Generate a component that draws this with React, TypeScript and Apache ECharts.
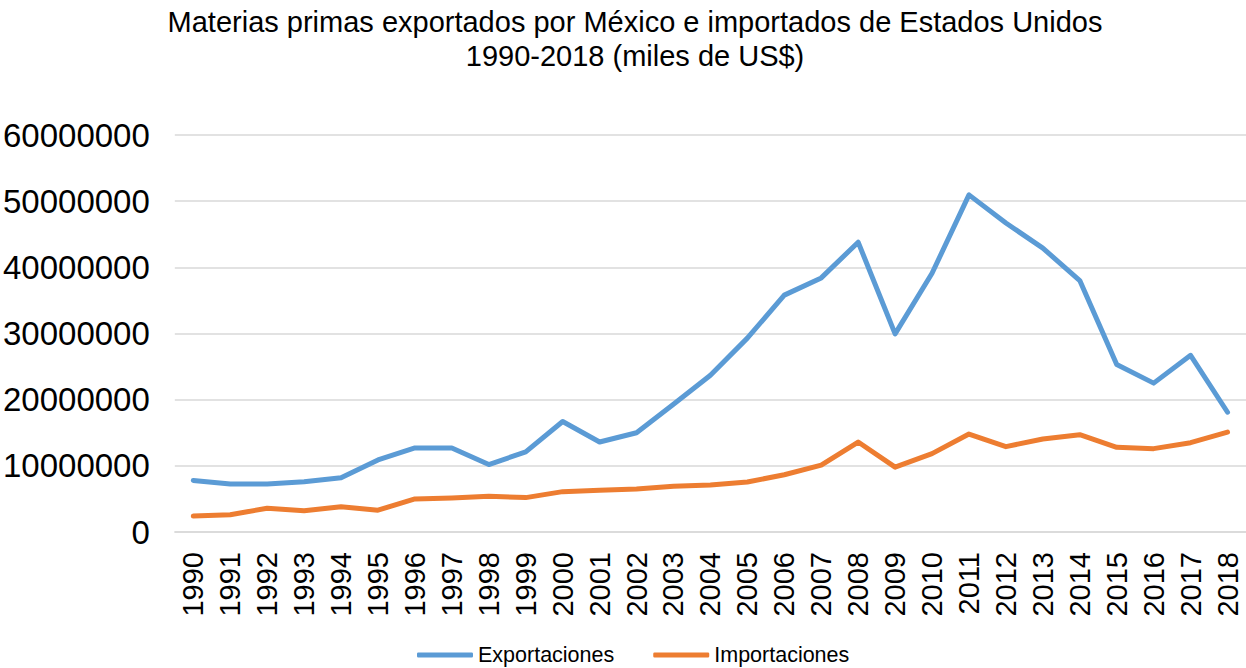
import React, { useEffect, useRef } from "react";
import * as echarts from "echarts";

const years = [
  "1990", "1991", "1992", "1993", "1994", "1995", "1996", "1997", "1998", "1999",
  "2000", "2001", "2002", "2003", "2004", "2005", "2006", "2007", "2008", "2009",
  "2010", "2011", "2012", "2013", "2014", "2015", "2016", "2017", "2018",
];

const exportaciones = [
  7800000, 7250000, 7250000, 7600000, 8200000, 10900000, 12700000, 12700000, 10200000, 12100000,
  16700000, 13600000, 15000000, 19300000, 23700000, 29300000, 35800000, 38400000, 43800000, 29950000,
  39100000, 50950000, 46700000, 42900000, 38000000, 25300000, 22500000, 26700000, 18100000,
];

const importaciones = [
  2400000, 2600000, 3600000, 3200000, 3800000, 3300000, 5000000, 5150000, 5400000, 5200000,
  6100000, 6300000, 6500000, 6900000, 7100000, 7550000, 8650000, 10100000, 13600000, 9800000,
  11850000, 14800000, 12900000, 14050000, 14700000, 12800000, 12600000, 13500000, 15100000,
];

const yTicks = { min: 0, max: 60000000, interval: 10000000 };

const titleText =
  "Materias primas exportados por México e importados de Estados Unidos\n1990-2018 (miles de US$)";

const FONT = "'Liberation Sans', Arial, sans-serif";

export default function App() {
  const ref = useRef<HTMLDivElement>(null);

  useEffect(() => {
    if (!ref.current) return;
    const chart = echarts.init(ref.current, undefined, { renderer: "svg" });
    chart.setOption({
      animation: false,
      backgroundColor: "#ffffff",
      title: {
        text: titleText,
        left: 630,
        top: 0,
        textAlign: "center",
        textStyle: {
          fontFamily: FONT,
          fontSize: 29,
          fontWeight: "normal",
          color: "#000000",
          lineHeight: 34,
          align: "center",
        },
      },
      legend: {
        top: 639,
        left: 412,
        itemWidth: 56,
        itemHeight: 5,
        itemGap: 39,
        icon: "roundRect",
        textStyle: { fontFamily: FONT, fontSize: 21.5, color: "#000000" },
        data: ["Exportaciones", "Importaciones"],
      },
      grid: { left: 172, right: 0, top: 135, bottom: 136, containLabel: false },
      xAxis: {
        type: "category",
        data: years,
        boundaryGap: true,
        axisLine: { show: true, lineStyle: { color: "#d9d9d9", width: 1.5 } },
        axisTick: { show: false },
        axisLabel: {
          rotate: 90,
          interval: 0,
          margin: 20,
          fontFamily: FONT,
          fontSize: 29,
          color: "#000000",
        },
      },
      yAxis: {
        type: "value",
        min: yTicks.min,
        max: yTicks.max,
        interval: yTicks.interval,
        axisLine: { show: false },
        axisTick: { show: false },
        splitLine: { lineStyle: { color: "#d9d9d9", width: 1.5 } },
        axisLabel: {
          margin: 25,
          fontFamily: FONT,
          fontSize: 33,
          color: "#000000",
          formatter: (v: number) => String(v),
        },
      },
      series: [
        {
          name: "Exportaciones",
          type: "line",
          data: exportaciones,
          symbol: "none",
          color: "#5b9bd5",
          lineStyle: { width: 5, color: "#5b9bd5", cap: "round", join: "round" },
        },
        {
          name: "Importaciones",
          type: "line",
          data: importaciones,
          symbol: "none",
          color: "#ed7d31",
          lineStyle: { width: 5, color: "#ed7d31", cap: "round", join: "round" },
        },
      ],
    });
    return () => chart.dispose();
  }, []);

  return (
    <div
      ref={ref}
      style={{ position: "fixed", left: 0, top: 0, width: 1246, height: 668 }}
    />
  );
}
